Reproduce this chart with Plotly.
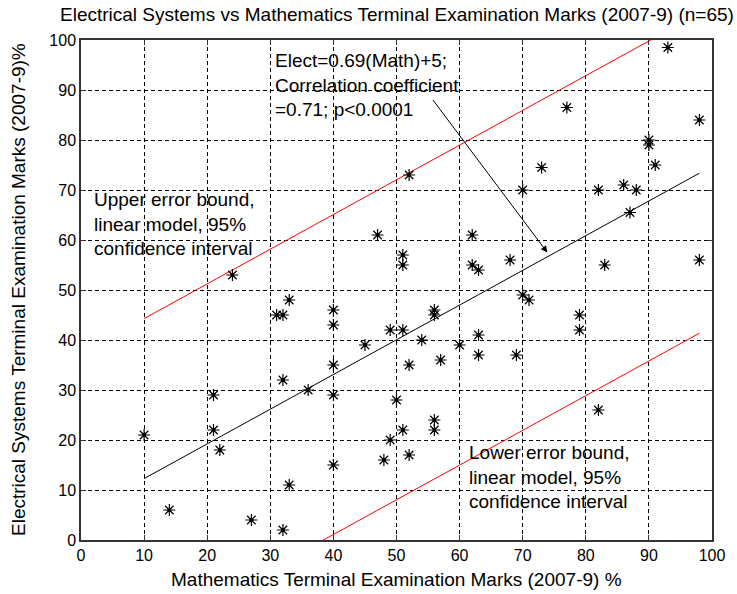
import numpy as np
import plotly.graph_objects as go

# Data (Mathematics %, Electrical Systems %)
math_marks = [10, 14, 21, 21, 22, 24, 27, 31, 32, 32, 33, 33, 32, 36, 40, 40, 40, 40, 40,
              45, 47, 48, 49, 49, 50, 51, 51, 51, 51, 52, 52, 52, 54, 56, 56, 56, 56, 57,
              60, 62, 62, 63, 63, 63, 68, 69, 70, 70, 71, 73, 77, 79, 79, 82, 82, 83, 86,
              87, 88, 90, 90, 91, 93, 98, 98]
elec_marks = [21, 6, 29, 22, 18, 53, 4, 45, 45, 32, 48, 11, 2, 30, 46, 43, 35, 29, 15,
              39, 61, 16, 42, 20, 28, 57, 55, 42, 22, 73, 35, 17, 40, 46, 45, 24, 22, 36,
              39, 61, 55, 54, 41, 37, 56, 37, 70, 49, 48, 74.5, 86.5, 45, 42, 70, 26, 55, 71,
              65.5, 70, 80, 79, 75, 98.5, 84, 56]

BOUND_HALF_WIDTH = 32  # half-width of the 95% band
x_ticks = list(range(0, 101, 10))
y_ticks = list(range(0, 101, 10))

title_text = "Electrical Systems vs Mathematics Terminal Examination Marks (2007-9) (n=65)"
x_title = "Mathematics Terminal Examination Marks (2007-9) %"
y_title = "Electrical Systems Terminal Examination Marks (2007-9)%"
model_text = "Elect=0.69(Math)+5;<br>Correlation coefficient<br>=0.71; p<0.0001"
upper_text = "Upper error bound,<br>linear model, 95%<br>confidence interval"
lower_text = "Lower error bound,<br>linear model, 95%<br>confidence interval"

FONT = "Liberation Sans, Arial, sans-serif"

mx = np.array(math_marks, dtype=float)
ey = np.array(elec_marks, dtype=float)
slope, intercept = np.polyfit(mx, ey, 1)
line_x = np.linspace(mx.min(), mx.max(), 50)
fit_y = slope * line_x + intercept

fig = go.Figure()
fig.add_trace(go.Scatter(x=line_x, y=fit_y + BOUND_HALF_WIDTH, mode="lines",
                         line=dict(color="red", width=1), hoverinfo="skip"))
fig.add_trace(go.Scatter(x=line_x, y=fit_y - BOUND_HALF_WIDTH, mode="lines",
                         line=dict(color="red", width=1), hoverinfo="skip"))
fig.add_trace(go.Scatter(x=line_x, y=fit_y, mode="lines",
                         line=dict(color="black", width=1), hoverinfo="skip"))
fig.add_trace(go.Scatter(x=mx, y=ey, mode="markers",
                         marker=dict(symbol="asterisk-open", size=10, color="black",
                                     line=dict(color="black", width=1.2))))
fig.add_trace(go.Scatter(x=mx, y=ey, mode="markers",
                         marker=dict(symbol="circle", size=4, color="black")))

axis_common = dict(range=[0, 100], showgrid=True, gridcolor="black", griddash="4px,3px",
                   gridwidth=1, showline=True, linecolor="#333333", linewidth=1.5,
                   mirror="ticks", ticks="inside", ticklen=5, tickcolor="#333333",
                   zeroline=False, layer="below traces",
                   tickfont=dict(family=FONT, size=16, color="black"))
fig.update_xaxes(tickvals=x_ticks, **axis_common)
fig.update_yaxes(tickvals=y_ticks, **axis_common)

ann_font = dict(family=FONT, size=19, color="black")
annotations = [
    dict(text=title_text, xref="paper", yref="paper", x=0.5, y=1.0, yshift=26,
         xanchor="center", yanchor="middle", showarrow=False, font=ann_font),
    dict(text=x_title, xref="paper", yref="paper", x=0.5, y=0, yshift=-39,
         xanchor="center", yanchor="middle", showarrow=False, font=ann_font),
    dict(text=y_title, xref="paper", yref="paper", x=0, xshift=-63, y=0.5,
         xanchor="center", yanchor="middle", textangle=-90, showarrow=False, font=ann_font),
    dict(text=model_text, xref="x", yref="y", x=30.5, y=91, xanchor="left", yanchor="middle",
         align="left", showarrow=False, font=ann_font),
    dict(text=upper_text, xref="x", yref="y", x=1.8, y=63.3, xanchor="left", yanchor="middle",
         align="left", showarrow=False, font=ann_font),
    dict(text=lower_text, xref="x", yref="y", x=61.1, y=12.6, xanchor="left", yanchor="middle",
         align="left", showarrow=False, font=ann_font),
    dict(text="", xref="x", yref="y", x=73.9, y=57.5, axref="x", ayref="y", ax=55.6, ay=88.3,
         showarrow=True, arrowhead=2, arrowsize=1.3, arrowwidth=1, arrowcolor="black"),
]

fig.update_layout(width=737, height=594, margin=dict(l=81, r=22, t=40, b=54),
                  paper_bgcolor="white", plot_bgcolor="white", showlegend=False,
                  annotations=annotations, font=dict(family=FONT, color="black"))

fig.write_html("out.html")
